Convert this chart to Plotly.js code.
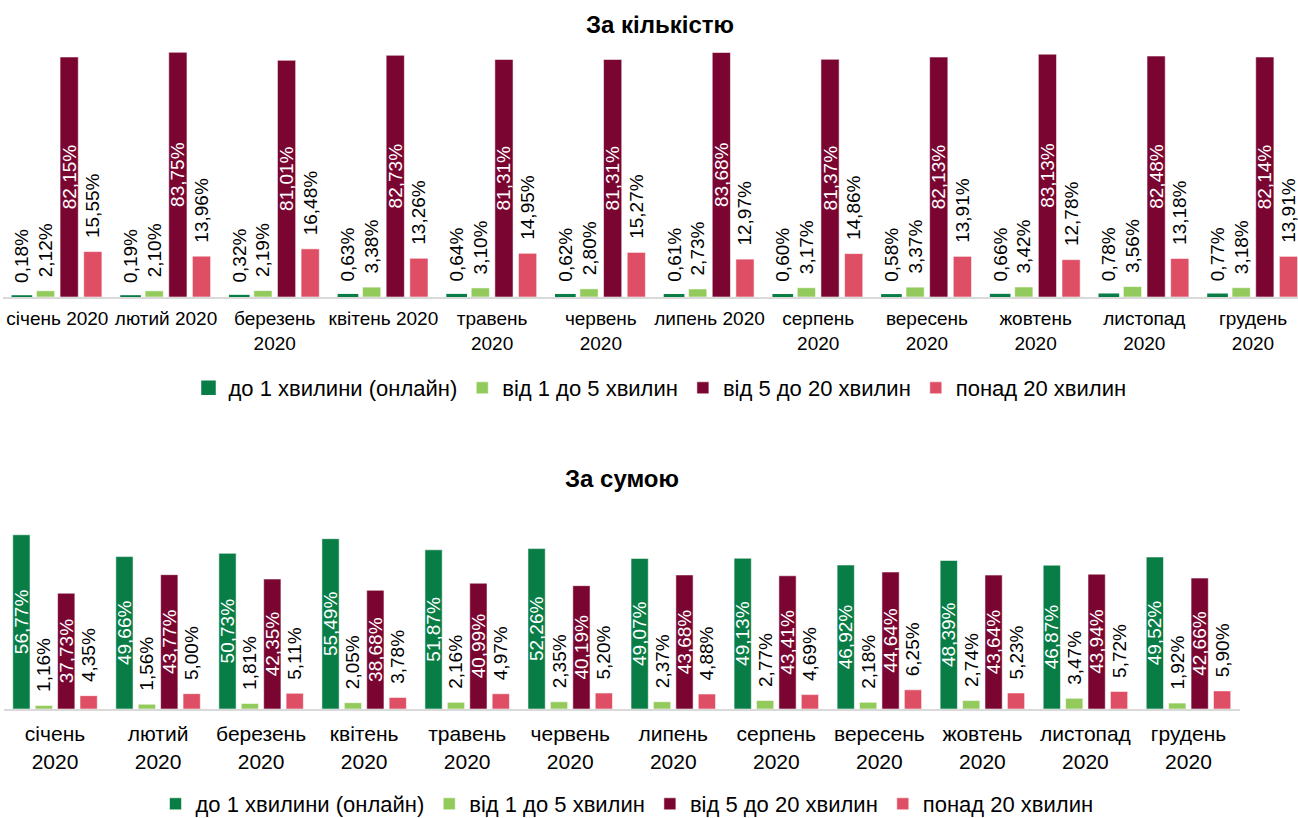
<!DOCTYPE html>
<html>
<head>
<meta charset="utf-8">
<script src="https://cdn.plot.ly/plotly-3.0.1.min.js"></script>
<style>
  html, body { margin: 0; padding: 0; background: #fff; overflow: hidden; }
  #chart { width: 1298px; height: 818px; }
</style>
</head>
<body>
<div id="chart"></div>
<script>
// Months of 2020
const months = ['січень', 'лютий', 'березень', 'квітень', 'травень', 'червень',
                'липень', 'серпень', 'вересень', 'жовтень', 'листопад', 'грудень'];

// Tick labels (wrapped as in the report)
const ticksCount = ['січень 2020', 'лютий 2020', 'березень<br>2020', 'квітень 2020',
                    'травень<br>2020', 'червень<br>2020', 'липень 2020', 'серпень<br>2020',
                    'вересень<br>2020', 'жовтень<br>2020', 'листопад<br>2020', 'грудень<br>2020'];
const ticksSum = months.map(m => m + '<br>2020');

// Series names
const seriesNames = ['до 1 хвилини (онлайн)', 'від 1 до 5 хвилин', 'від 5 до 20 хвилин', 'понад 20 хвилин'];

// Share by number of transactions, %
const countUnder1  = [0.18, 0.19, 0.32, 0.63, 0.64, 0.62, 0.61, 0.60, 0.58, 0.66, 0.78, 0.77];
const count1to5    = [2.12, 2.10, 2.19, 3.38, 3.10, 2.80, 2.73, 3.17, 3.37, 3.42, 3.56, 3.18];
const count5to20   = [82.15, 83.75, 81.01, 82.73, 81.31, 81.31, 83.68, 81.37, 82.13, 83.13, 82.48, 82.14];
const countOver20  = [15.55, 13.96, 16.48, 13.26, 14.95, 15.27, 12.97, 14.86, 13.91, 12.78, 13.18, 13.91];

// Share by amount, %
const sumUnder1    = [56.77, 49.66, 50.73, 55.49, 51.87, 52.26, 49.07, 49.13, 46.92, 48.39, 46.87, 49.52];
const sum1to5      = [1.16, 1.56, 1.81, 2.05, 2.16, 2.35, 2.37, 2.77, 2.18, 2.74, 3.47, 1.92];
const sum5to20     = [37.73, 43.77, 42.35, 38.68, 40.99, 40.19, 43.68, 43.41, 44.64, 43.64, 43.94, 42.66];
const sumOver20    = [4.35, 5.00, 5.11, 3.78, 4.97, 5.20, 4.88, 4.69, 6.25, 5.23, 5.72, 5.90];

const colors = ['#087d46', '#92ca5c', '#7a0531', '#de4e64'];
const FONT = 'Liberation Sans, Arial, sans-serif';

function series(idx, values, xa, ya, legend, inside, outline) {
  return {
    type: 'bar',
    name: seriesNames[idx],
    x: months,
    y: values,
    xaxis: xa,
    yaxis: ya,
    legend: legend,
    marker: {
      color: colors[idx],
      line: outline || { color: 'rgba(255,255,255,0.55)', width: 1 }
    },
    texttemplate: inside ? '%{y:.2f}%' : '\u00a0\u00a0%{y:.2f}%',
    textposition: inside ? 'inside' : 'outside',
    insidetextanchor: 'middle',
    textangle: -90,
    constraintext: 'none',
    cliponaxis: true,
    insidetextfont: { family: FONT, size: 19, color: '#ffffff' },
    outsidetextfont: { family: FONT, size: 19, color: '#000000' },
    hoverinfo: 'skip'
  };
}

const data = [
  // tiny online bars get a solid outline so they stay visible
  series(0, countUnder1, 'x', 'y', 'legend', false, { color: colors[0], width: 2.5 }),
  series(1, count1to5, 'x', 'y', 'legend', false),
  series(2, count5to20, 'x', 'y', 'legend', true),
  series(3, countOver20, 'x', 'y', 'legend', false),
  series(0, sumUnder1, 'x2', 'y2', 'legend2', true),
  series(1, sum1to5, 'x2', 'y2', 'legend2', false),
  series(2, sum5to20, 'x2', 'y2', 'legend2', true),
  series(3, sumOver20, 'x2', 'y2', 'legend2', false)
];

const W = 1298, H = 818;
const xAxisBase = {
  type: 'category',
  showgrid: false,
  zeroline: false,
  showline: true,
  linecolor: '#d9d9d9',
  linewidth: 2,
  ticks: '',
  fixedrange: true
};
const yAxisBase = {
  showgrid: false,
  zeroline: false,
  showline: false,
  showticklabels: false,
  ticks: '',
  fixedrange: true
};

const layout = {
  width: W,
  height: H,
  margin: { l: 0, r: 0, t: 0, b: 0, autoexpand: false },
  paper_bgcolor: '#ffffff',
  plot_bgcolor: '#ffffff',
  separators: ', ',
  barmode: 'group',
  bargap: 0.13,
  bargroupgap: 0.23,
  font: { family: FONT, size: 19, color: '#000' },
  xaxis: Object.assign({}, xAxisBase, {
    domain: [3 / W, 1],
    range: [-0.5, 11.414],
    tickvals: months,
    ticktext: ticksCount,
    tickfont: { family: FONT, size: 19, color: '#000' },
    ticklabelstandoff: 3,
    anchor: 'y'
  }),
  yaxis: Object.assign({}, yAxisBase, {
    domain: [(H - 297) / H, (H - 51) / H],
    range: [0, 84.2],
    anchor: 'x'
  }),
  xaxis2: Object.assign({}, xAxisBase, {
    domain: [3.5 / W, 1240 / W],
    range: [-0.5, 11.5],
    tickvals: months,
    ticktext: ticksSum,
    tickfont: { family: FONT, size: 21, color: '#000' },
    ticklabelstandoff: 5,
    anchor: 'y2'
  }),
  yaxis2: Object.assign({}, yAxisBase, {
    domain: [(H - 709) / H, (H - 531) / H],
    range: [0, 58],
    anchor: 'x2'
  }),
  legend: {
    orientation: 'h',
    x: 660 / W, xanchor: 'center',
    y: (H - 388) / H, yanchor: 'middle',
    font: { family: FONT, size: 22, color: '#000' },
    bgcolor: 'rgba(0,0,0,0)'
  },
  legend2: {
    orientation: 'h',
    x: 627 / W, xanchor: 'center',
    y: (H - 804) / H, yanchor: 'middle',
    font: { family: FONT, size: 22, color: '#000' },
    bgcolor: 'rgba(0,0,0,0)'
  },
  annotations: [
    {
      text: '<b>За кількістю</b>',
      xref: 'paper', yref: 'paper',
      x: 660 / W, y: (H - 25) / H,
      xanchor: 'center', yanchor: 'middle',
      showarrow: false,
      font: { family: FONT, size: 24, color: '#000' }
    },
    {
      text: '<b>За сумою</b>',
      xref: 'paper', yref: 'paper',
      x: 622 / W, y: (H - 478) / H,
      xanchor: 'center', yanchor: 'middle',
      showarrow: false,
      font: { family: FONT, size: 24, color: '#000' }
    }
  ],
  showlegend: true
};

Plotly.newPlot('chart', data, layout, { displayModeBar: false, staticPlot: true });
</script>
</body>
</html>
